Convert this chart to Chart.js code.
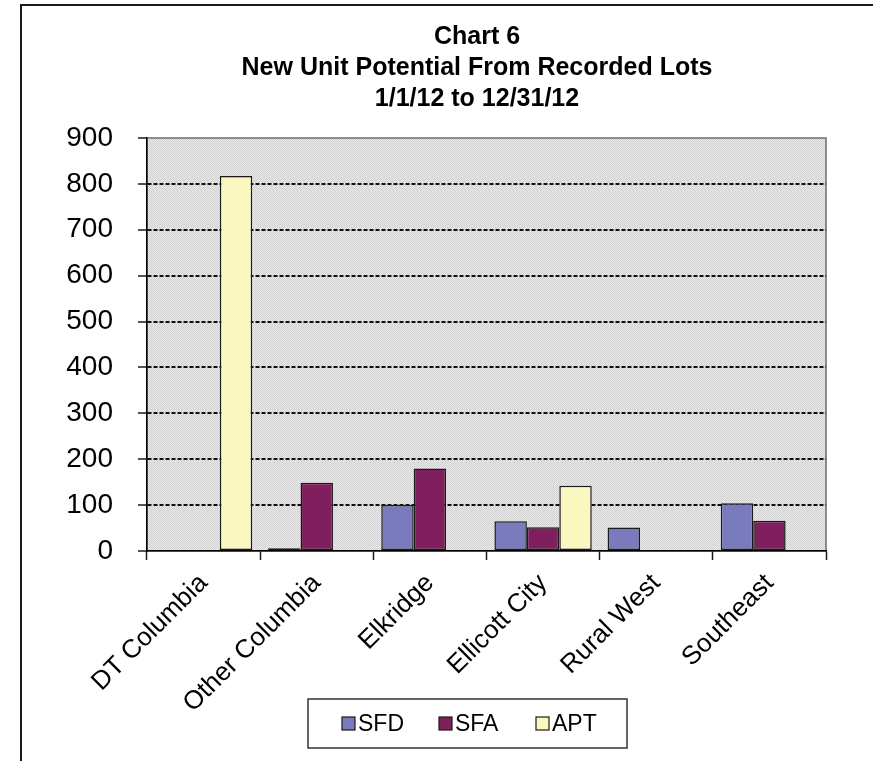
<!DOCTYPE html>
<html>
<head>
<meta charset="utf-8">
<title>Chart 6</title>
<script src="https://cdn.jsdelivr.net/npm/chart.js@4/dist/chart.umd.min.js"></script>
<style>
  html, body { margin: 0; padding: 0; background: #fff; }
</style>
</head>
<body>
<canvas id="unitChart" width="873" height="761"></canvas>
<script>
// --- Data ---
const AREAS = ["DT Columbia", "Other Columbia", "Elkridge", "Ellicott City", "Rural West", "Southeast"];
const SFD_UNITS = [0, 6, 100, 65, 51, 104];
const SFA_UNITS = [0, 149, 180, 52, 0, 66];
const APT_UNITS = [817, 0, 0, 142, 0, 0];
const TITLE_LINES = ["Chart 6", "New Unit Potential From Recorded Lots", "1/1/12 to 12/31/12"];
const Y_MAX = 900;
const Y_STEP = 100;

const FONT = "'Liberation Sans', Arial, sans-serif";

// small dotted fill for the plot area
function dotPattern(ctx) {
  const c = document.createElement("canvas");
  c.width = 2;
  c.height = 2;
  const p = c.getContext("2d");
  p.fillStyle = "#ebebeb";
  p.fillRect(0, 0, 2, 2);
  p.fillStyle = "#d0d0d0";
  p.fillRect(0, 0, 1, 1);
  p.fillRect(1, 1, 1, 1);
  return ctx.createPattern(c, "repeat");
}

// frame, plot background, title and boxed legend
const chartFrame = {
  id: "chartFrame",
  beforeDraw(chart) {
    const { ctx, chartArea: a } = chart;
    ctx.save();
    ctx.fillStyle = "#fff";
    ctx.fillRect(0, 0, chart.width, chart.height);
    ctx.strokeStyle = "#1a1a1a";
    ctx.lineWidth = 2;
    ctx.strokeRect(21, 5, chart.width + 10, chart.height + 10);
    ctx.fillStyle = dotPattern(ctx);
    ctx.fillRect(a.left, a.top, a.right - a.left, a.bottom - a.top);
    ctx.strokeStyle = "#6e6e6e";
    ctx.lineWidth = 1.5;
    ctx.strokeRect(a.left, a.top, a.right - a.left, a.bottom - a.top);
    ctx.restore();
  },
  afterDraw(chart) {
    const ctx = chart.ctx;
    ctx.save();
    // title
    ctx.fillStyle = "#000";
    ctx.font = `bold 25px ${FONT}`;
    ctx.textAlign = "center";
    ctx.textBaseline = "middle";
    TITLE_LINES.forEach((line, i) => ctx.fillText(line, 477, 37 + i * 31));

    // legend box
    ctx.fillStyle = "#fff";
    ctx.fillRect(308, 699, 319, 49);
    ctx.strokeStyle = "#333";
    ctx.lineWidth = 1.5;
    ctx.strokeRect(308, 699, 319, 49);
    ctx.font = `23px ${FONT}`;
    ctx.textAlign = "left";
    ctx.textBaseline = "middle";
    const itemX = [342, 439, 536];
    chart.data.datasets.forEach((ds, i) => {
      const x = itemX[i];
      ctx.fillStyle = ds.backgroundColor;
      ctx.fillRect(x, 717, 13, 13);
      ctx.strokeStyle = "#1a1a1a";
      ctx.lineWidth = 1.2;
      ctx.strokeRect(x, 717, 13, 13);
      ctx.fillStyle = "#000";
      ctx.fillText(ds.label, x + 16, 725);
    });
    ctx.restore();
  },
};

const barStyle = {
  borderColor: "#1a1a1a",
  borderWidth: 1.5,
  borderSkipped: false,
  categoryPercentage: 0.86,
  barPercentage: 1.0,
};

new Chart(document.getElementById("unitChart"), {
  type: "bar",
  data: {
    labels: AREAS,
    datasets: [
      { label: "SFD", data: SFD_UNITS, backgroundColor: "#7a7bbd", ...barStyle },
      { label: "SFA", data: SFA_UNITS, backgroundColor: "#801f5e", ...barStyle },
      { label: "APT", data: APT_UNITS, backgroundColor: "#faf7c1", ...barStyle },
    ],
  },
  options: {
    responsive: false,
    animation: false,
    layout: { padding: { top: 138, right: 47, bottom: 0, left: 0 } },
    plugins: {
      legend: { display: false },
      title: { display: false },
      tooltip: { enabled: false },
    },
    scales: {
      x: {
        offset: true,
        grid: {
          offset: true,
          drawOnChartArea: false,
          tickLength: 9,
          tickColor: "#1a1a1a",
          tickWidth: 1.5,
        },
        border: { color: "#000", width: 1.5 },
        ticks: {
          autoSkip: false,
          minRotation: 45,
          maxRotation: 45,
          padding: 8,
          color: "#000",
          font: { family: FONT, size: 26 },
        },
        afterFit: (scale) => { scale.height = 210; },
      },
      y: {
        min: 0,
        max: Y_MAX,
        grid: {
          color: (c) => (c.tick.value === 0 || c.tick.value === Y_MAX ? "rgba(0,0,0,0)" : "#111"),
          lineWidth: 2,
          tickLength: 9,
          tickColor: "#1a1a1a",
          tickWidth: 1.5,
          tickBorderDash: [],
        },
        // in v4 the dash set on the border applies to the grid lines
        border: { color: "#000", width: 1.5, dash: [4, 2] },
        ticks: {
          stepSize: Y_STEP,
          padding: 25,
          color: "#000",
          font: { family: FONT, size: 28 },
        },
        afterFit: (scale) => { scale.width = 147; },
      },
    },
  },
  plugins: [chartFrame],
});
</script>
</body>
</html>
